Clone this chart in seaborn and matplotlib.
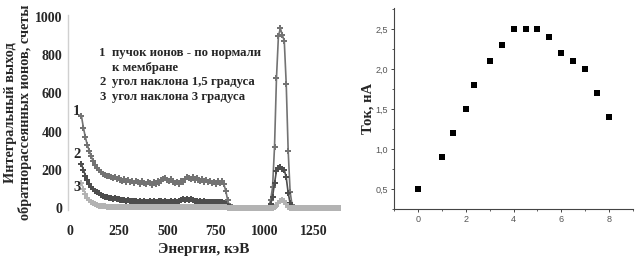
import numpy as np
import pandas as pd
import matplotlib
matplotlib.use("Agg")
import matplotlib.pyplot as plt
import seaborn as sns
from matplotlib.ticker import FuncFormatter, MultipleLocator

# ---------------- data ----------------
energy = np.arange(60, 1400, 10)  # keV channel grid

series1 = [
    480, 420, 370, 330, 300, 270, 245, 225, 210, 200,
    190, 180, 175, 168, 170, 160, 155, 162, 150, 155,
    148, 140, 150, 138, 145, 135, 142, 130, 140, 135,
    128, 140, 132, 125, 138, 130, 122, 135, 128, 140,
    132, 145, 150, 158, 148, 140, 150, 138, 130, 135,
    128, 140, 135, 150, 165, 158, 150, 160, 145, 155,
    148, 140, 152, 138, 145, 135, 142, 130, 138, 128,
    140, 132, 140, 125,
    90, 40, 10, 3, 1, 0, 0, 0, 0, 0, 0, 0, 0, 0, 0, 0, 0, 0, 0, 0, 0,
    2, 10, 40, 110, 320, 680, 900, 940, 905, 875, 650, 300, 85, 15, 2,
    0, 0, 0, 0, 0, 0, 0, 0, 0, 0, 0, 0, 0, 0, 0, 0, 0, 0, 0, 0, 0, 0, 0, 0,
]
series2 = [
    230, 200, 170, 145, 125, 110, 100, 90, 82, 78,
    70, 65, 60, 58, 55, 50, 48, 52, 45, 47,
    42, 40, 44, 38, 40, 36, 39, 35, 38, 34,
    37, 33, 36, 34, 32, 35, 33, 36, 31, 34,
    35, 38, 33, 36, 32, 34, 37, 33, 35, 32,
    36, 40, 46, 44, 48, 42, 45, 40, 38, 36,
    34, 37, 33, 35, 31, 34, 32, 30, 33, 30,
    32, 29, 31, 28,
    20, 8, 3, 1, 0, 0, 0, 0, 0, 0, 0, 0, 0, 0, 0, 0, 0, 0, 0, 0, 0,
    1, 5, 20, 60, 130, 195, 210, 215, 205, 200, 160, 80, 25, 6, 1,
    0, 0, 0, 0, 0, 0, 0, 0, 0, 0, 0, 0, 0, 0, 0, 0, 0, 0, 0, 0, 0, 0, 0, 0,
]
series3 = [
    130, 100, 75, 55, 42, 32, 25, 20, 16, 13,
    11, 10, 9, 8, 7, 7, 6, 6, 5, 6,
    5, 5, 6, 5, 5, 4, 5, 5, 4, 5,
    4, 5, 4, 4, 5, 4, 4, 5, 4, 4,
    5, 4, 4, 5, 4, 4, 5, 4, 4, 5,
    4, 5, 6, 5, 6, 5, 5, 4, 5, 4,
    5, 4, 4, 5, 4, 4, 5, 4, 4, 4,
    5, 4, 4, 4,
    3, 2, 1, 0, 0, 0, 0, 0, 0, 0, 0, 0, 0, 0, 0, 0, 0, 0, 0, 0, 0,
    0, 0, 0, 1, 3, 10, 25, 38, 42, 35, 20, 6, 1, 0, 0,
    0, 0, 0, 0, 0, 0, 0, 0, 0, 0, 0, 0, 0, 0, 0, 0, 0, 0, 0, 0, 0, 0, 0, 0,
]
legend_lines = ["пучок ионов - по нормали", "к мембране",
                "угол наклона 1,5 градуса", "угол наклона 3 градуса"]
left_xticks = [0, 250, 500, 750, 1000, 1250]
left_yticks = [0, 200, 400, 600, 800, 1000]

tilt = [0, 1, 1.45, 2, 2.35, 3, 3.5, 4, 4.5, 5, 5.5, 6, 6.5, 7, 7.5, 8]
current = [0.5, 0.9, 1.2, 1.5, 1.8, 2.1, 2.3, 2.5, 2.5, 2.5, 2.4, 2.2, 2.1, 2.0, 1.7, 1.4]
right_xticks = [0, 2, 4, 6, 8]
right_yticks = [0.5, 1.0, 1.5, 2.0, 2.5]

# ---------------- style ----------------
sns.set_style("white")
plt.rcParams['font.family'] = ['Liberation Serif', 'DejaVu Serif']

fig = plt.figure(figsize=(6.4, 2.6), dpi=100)
ax = fig.add_axes([0.106, 0.194, 0.425, 0.748])
ax2 = fig.add_axes([0.616, 0.196, 0.373, 0.773])

df = pd.DataFrame({"E": np.concatenate([energy] * 3),
                   "N": series1 + series2 + series3,
                   "s": ["1"] * len(energy) + ["2"] * len(energy) + ["3"] * len(energy)})
colors = {"1": "#737373", "2": "#4d4d4d", "3": "#b3b3b3"}
for key in ["1", "2", "3"]:
    sub = df[df.s == key]
    sns.lineplot(data=sub, x="E", y="N", ax=ax, color=colors[key], lw=1.2,
                 marker="P", markersize=4.4, markeredgewidth=0,
                 legend=False)

ax.set_xlim(-10, 1385)
ax.set_ylim(-8, 1010)
ax.set_xticks(left_xticks)
ax.set_yticks(left_yticks)
for s in ["top", "right", "bottom"]:
    ax.spines[s].set_visible(False)
ax.spines["left"].set_color("#d0d0d0")
ax.spines["left"].set_linewidth(1.0)
ax.tick_params(axis="both", length=0, labelsize=10)
ax.tick_params(axis="x", pad=11)
ax.tick_params(axis="y", pad=4)
for lab in ax.get_xticklabels() + ax.get_yticklabels():
    lab.set_fontweight("bold")
ax.set_xlabel("Энергия, кэВ", fontsize=11, fontweight="bold", labelpad=4)
ax.set_ylabel("Интегральный выход\nобратнорассеянных ионов, счеты",
              fontsize=10.3, fontweight="bold", labelpad=2, linespacing=1.05)

# curve numbers
for txt, yv in zip(["1", "2", "3"], [505, 280, 105]):
    ax.text(35, yv, txt, fontsize=10.5, fontweight="bold", ha="center", va="center")
# legend text block
ly = [811, 733, 660, 581]
nums = ["1", "", "2", "3"]
for n, t, yv in zip(nums, legend_lines, ly):
    if n:
        ax.text(152, yv, n, fontsize=9.2, fontweight="bold", ha="left", va="center")
    ax.text(218, yv, t, fontsize=9.2, fontweight="bold", ha="left", va="center")

# right panel
sns.scatterplot(x=tilt, y=current, ax=ax2, marker="s", color="black", s=13,
                edgecolor="black", linewidth=0)
ax2.set_xlim(-1, 9)
ax2.set_ylim(0.25, 2.76)
ax2.set_xticks(right_xticks)
ax2.set_yticks(right_yticks)
ax2.xaxis.set_minor_locator(MultipleLocator(1))
ax2.yaxis.set_minor_locator(MultipleLocator(0.25))
ax2.yaxis.set_major_formatter(FuncFormatter(lambda v, p: f"{v:.1f}".replace(".", ",")))
for s in ["top", "right"]:
    ax2.spines[s].set_visible(False)
for s in ["left", "bottom"]:
    ax2.spines[s].set_color("#444444")
    ax2.spines[s].set_linewidth(0.8)
ax2.tick_params(axis="both", which="major", direction="out", length=2.5, width=0.7,
                color="#444444", labelsize=6.5, labelcolor="#555555", pad=2,
                left=True, bottom=True)
ax2.tick_params(axis="both", which="minor", direction="out", length=1.5, width=0.6,
                color="#444444", left=True, bottom=True)
for lab in ax2.get_xticklabels() + ax2.get_yticklabels():
    lab.set_fontfamily(["Liberation Sans", "DejaVu Sans"])
ax2.set_ylabel("Ток, нА", fontsize=10.5, fontweight="bold", labelpad=1)

fig.savefig("out.png", dpi=100)
